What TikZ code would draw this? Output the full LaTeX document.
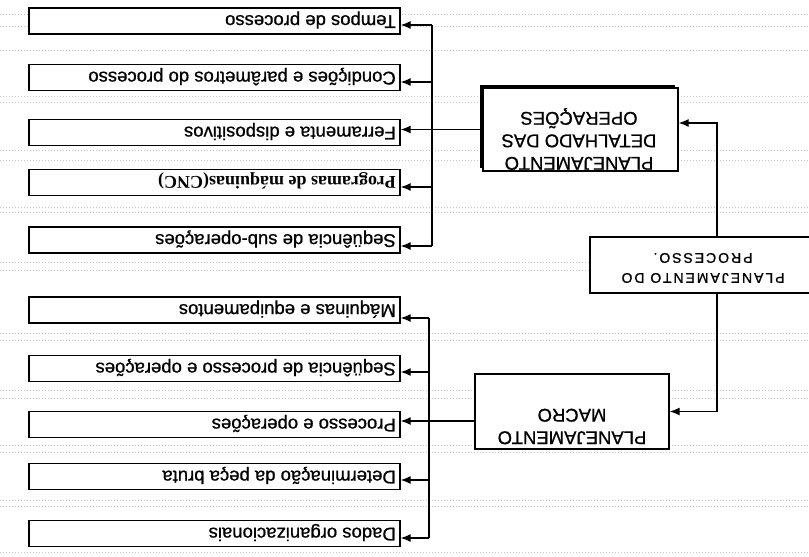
\documentclass[tikz,border=0pt]{standalone}
\usepackage{fontspec}
\setmainfont{Liberation Sans}
\newfontfamily\heavysans[FakeBold=0.8]{Liberation Sans}
\newfontfamily\progfont{Liberation Serif}
\newfontfamily\spacedsans[LetterSpace=14,FakeBold=1]{Liberation Sans}
\usetikzlibrary{arrows.meta,shadows}
\begin{document}
\begin{tikzpicture}[x=1pt,y=-1pt,
  boxline/.style={draw=black,line width=1.4pt,fill=white},
  smallbox/.style={boxline,minimum width=371pt,minimum height=26pt,inner sep=0pt},
  bigbox/.style={boxline,inner sep=0pt},
  boxtext/.style={rotate=180,inner sep=0pt,anchor=west,text height=13.5pt,text depth=4pt,
                  font=\heavysans\fontsize{18.5}{22}\selectfont},
  bigtext/.style={rotate=180,inner sep=0pt,align=center,font=\heavysans\fontsize{18.5}{22.5}\selectfont},
  conn/.style={line width=1.3pt},
  arr/.style={line width=1.3pt,-{Latex[length=10pt,width=8pt]}},
  bgdots/.style={black!22,line width=0.5pt,dash pattern=on 0.7pt off 2.3pt}]
\useasboundingbox (0,0) rectangle (809,557);
\clip (0,0) rectangle (809,557);
% faint dotted scan lines
\foreach \yy in {14,26,50,96,102,150,160,207,212,262,270,333,340,390,398,445,452,500,506,552}
  \draw[bgdots] (0,\yy) -- (809,\yy);
% left boxes, upper group
\node[smallbox] (b1) at (214.5,21) {};
\node[smallbox] (b2) at (214.5,77.5) {};
\node[smallbox] (b3) at (214.5,132.5) {};
\node[smallbox] (b4) at (214.5,182.5) {};
\node[smallbox] (b5) at (214.5,240) {};
\node[boxtext] (t1) at (396,20) {Tempos de processo};
\node[boxtext] (t2) at (396,76.5) {Condições e parâmetros do processo};
\node[boxtext] (t3) at (396,131.5) {Ferramenta e dispositivos};
\node[boxtext,font=\progfont\bfseries\fontsize{18}{22}\selectfont] (t4) at (396,181.5) {Programas de máquinas(CNC)};
\node[boxtext] (t5) at (396,239) {Seqüência de sub-operações};
% left boxes, lower group
\node[smallbox] (m1) at (214.5,310) {};
\node[smallbox] (m2) at (214.5,368.5) {};
\node[smallbox] (m3) at (214.5,424.5) {};
\node[smallbox] (m4) at (214.5,476.5) {};
\node[smallbox] (m5) at (214.5,533.5) {};
\node[boxtext] (s1) at (396,309) {Máquinas e equipamentos};
\node[boxtext] (s2) at (396,367.5) {Seqüência de processo e operações};
\node[boxtext] (s3) at (396,423.5) {Processo e operações};
\node[boxtext] (s4) at (396,475.5) {Determinação da peça bruta};
\node[boxtext] (s5) at (396,532.5) {Dados organizacionais};
% big boxes
\node[bigbox,minimum width=195pt,minimum height=83pt,
      drop shadow={shadow xshift=-3.5pt,shadow yshift=3.5pt,opacity=1,fill=black}] (det) at (580.5,129.5) {};
\node[bigtext] (dett) at (579,139) {PLANEJAMENTO\\DETALHADO DAS\\OPERAÇÕES};
\node[bigbox,minimum width=194pt,minimum height=75pt] (mac) at (572,411.5) {};
\node[bigtext] (mact) at (572,426.5) {PLANEJAMENTO\\MACRO};
\node[bigbox,minimum width=224pt,minimum height=56pt] (proc) at (702,265) {};
\node[bigtext,font=\spacedsans\fontsize{14}{20}\selectfont] (proct) at (703,268) {PLANEJAMENTO DO\\PROCESSO.};
% upper trunk
\coordinate (ua1) at (432,25);
\coordinate (ua2) at (432,82);
\coordinate (ua4) at (432,187);
\coordinate (ua5) at (432,246);
\draw[conn] (ua1) -- (ua5);
\draw[arr] (ua1) -- (ua1 -| b1.east);
\draw[arr] (ua2) -- (ua2 -| b2.east);
\draw[arr] (det.west) -- (det.west -| b3.east);
\draw[arr] (ua4) -- (ua4 -| b4.east);
\draw[arr] (ua5) -- (ua5 -| b5.east);
% lower trunk
\coordinate (la1) at (429,318);
\coordinate (la2) at (429,372);
\coordinate (la3) at (429,421);
\coordinate (la4) at (429,480);
\coordinate (la5) at (429,538);
\draw[conn] (la1) -- (la5);
\draw[arr] (la1) -- (la1 -| m1.east);
\draw[arr] (la2) -- (la2 -| m2.east);
\draw[conn] (mac.west |- la3) -- (la3);
\draw[arr] (la3) -- (la3 -| m3.east);
\draw[arr] (la4) -- (la4 -| m4.east);
\draw[arr] (la5) -- (la5 -| m5.east);
% from process planning to the two planning levels
\coordinate (pv) at (717,0);
\coordinate (dy) at (0,123);
\draw[arr] (proc.north -| pv) |- (det.east |- dy);
\draw[arr] (proc.south -| pv) |- (mac.east);
\end{tikzpicture}
\end{document}
